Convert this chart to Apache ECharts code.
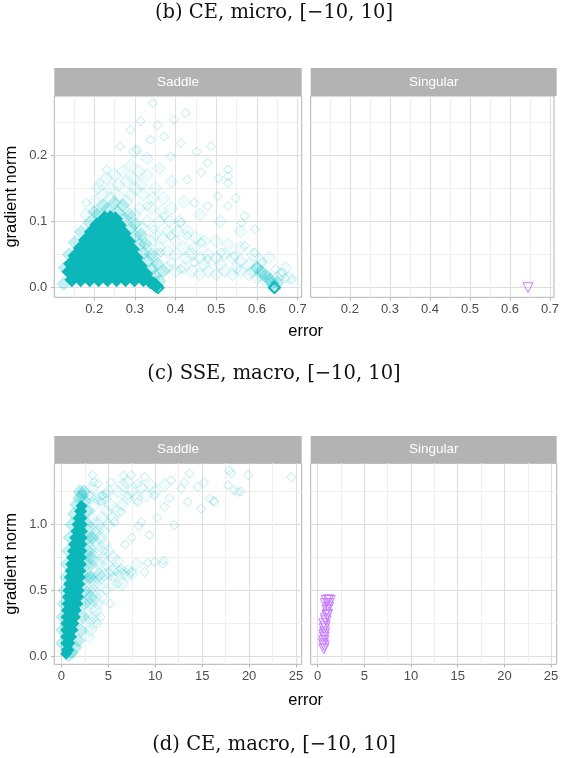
<!DOCTYPE html>
<html><head><meta charset="utf-8">
<script src="https://cdn.jsdelivr.net/npm/echarts@6/dist/echarts.min.js"></script>
<style>html,body{margin:0;padding:0;background:#fff}#c{width:562px;height:758px}</style>
</head><body><div id="c"></div>
<script>
// ---------- labels ----------
const panelNames = ['Saddle', 'Singular'];
const captions = ['(b) CE, micro, [\u221210, 10]', '(c) SSE, macro, [\u221210, 10]', '(d) CE, macro, [\u221210, 10]'];
const xTitle = 'error';
const yTitle = 'gradient norm';

// ---------- ticks ----------
const microXTicks = [0.2, 0.3, 0.4, 0.5, 0.6, 0.7];
const microXMinor = [0.15, 0.25, 0.35, 0.45, 0.55, 0.65];
const microYTicks = [0, 0.1, 0.2];
const microYMinor = [0.05, 0.15, 0.25];
const macroXTicks = [0, 5, 10, 15, 20, 25];
const macroXMinor = [2.5, 7.5, 12.5, 17.5, 22.5];
const macroYTicks = [0, 0.5, 1.0];
const macroYMinor = [0.25, 0.75, 1.25];

// ---------- SSE, macro (top) : Saddle ----------
const microSaddleCore = [
  [0.145,0.012],[0.167,0.012],[0.189,0.012],[0.211,0.012],[0.233,0.012],[0.255,0.012],[0.277,0.012],[0.299,0.012],[0.321,0.012],[0.338,0.009],
  [0.138,0.024],[0.156,0.024],[0.178,0.024],[0.200,0.024],[0.222,0.024],[0.244,0.024],[0.266,0.024],[0.288,0.024],[0.310,0.024],[0.326,0.021],
  [0.142,0.036],[0.167,0.036],[0.189,0.036],[0.211,0.036],[0.233,0.036],[0.255,0.036],[0.277,0.036],[0.299,0.036],[0.313,0.033],
  [0.153,0.048],[0.178,0.048],[0.200,0.048],[0.222,0.048],[0.244,0.048],[0.266,0.048],[0.288,0.048],[0.303,0.045],
  [0.166,0.060],[0.189,0.060],[0.211,0.060],[0.233,0.060],[0.255,0.060],[0.277,0.060],[0.294,0.058],
  [0.179,0.072],[0.200,0.072],[0.222,0.072],[0.244,0.072],[0.266,0.072],[0.284,0.070],
  [0.193,0.084],[0.211,0.084],[0.233,0.084],[0.255,0.084],[0.273,0.082],
  [0.207,0.095],[0.222,0.095],[0.244,0.095],[0.262,0.094],
  [0.226,0.105],[0.240,0.106],[0.252,0.104],
  [0.346,0.006],[0.352,0.003]
];
const microSaddleFringe = [
  [0.125,0.006],[0.128,0.030],[0.138,0.050],[0.152,0.068],[0.168,0.084],[0.188,0.098],[0.208,0.110],[0.232,0.118],[0.258,0.114],
  [0.275,0.104],[0.290,0.090],[0.302,0.078],[0.312,0.065],[0.322,0.052],[0.332,0.040],[0.342,0.028],[0.350,0.018],[0.360,0.010],
  [0.250,0.128],[0.270,0.124],[0.286,0.110],[0.300,0.096],[0.315,0.080],[0.326,0.066],[0.340,0.050],[0.355,0.036],[0.370,0.025],
  [0.222,0.124],[0.200,0.114],[0.643,0.002],[0.637,0.007],[0.630,0.012],[0.620,0.018],[0.610,0.024],[0.600,0.030],[0.650,0.008]
];
const microSaddleHaze = [
  [0.180,0.110],[0.200,0.130],[0.220,0.140],[0.240,0.150],[0.260,0.155],[0.280,0.160],[0.300,0.150],[0.320,0.140],[0.340,0.120],
  [0.360,0.100],[0.380,0.085],[0.400,0.070],[0.420,0.060],[0.440,0.050],[0.460,0.045],[0.480,0.050],[0.500,0.045],[0.520,0.050],
  [0.540,0.045],[0.560,0.040],[0.580,0.035],[0.600,0.030],[0.620,0.022],[0.635,0.012],[0.650,0.015],[0.660,0.020],
  [0.380,0.030],[0.400,0.025],[0.420,0.030],[0.440,0.025],[0.460,0.020],[0.480,0.025],[0.500,0.020],[0.520,0.025],[0.540,0.020],
  [0.560,0.025],[0.580,0.020],[0.600,0.015],[0.620,0.010],[0.360,0.060],[0.380,0.055],[0.400,0.050],[0.350,0.080],[0.370,0.075],
  [0.330,0.100],[0.310,0.120],[0.290,0.140],[0.270,0.175],[0.290,0.185],[0.310,0.175],[0.330,0.170],[0.350,0.150],[0.370,0.135],
  [0.390,0.120],[0.410,0.100],[0.430,0.085],[0.450,0.075],[0.470,0.070],[0.500,0.070],[0.530,0.065],[0.560,0.060],[0.590,0.050],
  [0.610,0.040],[0.250,0.170],[0.230,0.165],[0.210,0.150],[0.300,0.205],[0.330,0.195],[0.360,0.180],[0.390,0.160],[0.420,0.130],
  [0.460,0.110],[0.510,0.100],[0.560,0.085],[0.630,0.045],[0.670,0.030],[0.680,0.015],
  [0.320,0.090],[0.340,0.070],[0.355,0.050],[0.300,0.110],[0.280,0.130],[0.260,0.138],[0.240,0.135],[0.315,0.155],[0.295,0.165],
  [0.345,0.135],[0.365,0.115],[0.385,0.100],[0.405,0.085],[0.425,0.045],[0.445,0.060],[0.470,0.035],[0.510,0.035],[0.550,0.030],
  [0.590,0.025],[0.610,0.020]
];
const microSaddleSparse = [
  [0.344,0.278],[0.425,0.263],[0.396,0.253],[0.314,0.251],[0.372,0.228],[0.487,0.213],[0.529,0.178],[0.479,0.188],[0.463,0.174],
  [0.413,0.218],[0.529,0.158],[0.570,0.108],[0.562,0.098],[0.529,0.123],[0.504,0.138],[0.446,0.128],[0.479,0.123],[0.429,0.163],
  [0.388,0.198],[0.289,0.238],[0.305,0.208],[0.264,0.213],[0.231,0.178],[0.214,0.158],[0.181,0.128],[0.338,0.223],[0.529,0.168],
  [0.595,0.088],[0.670,0.014],[0.645,0.028],[0.612,0.038],[0.595,0.053],[0.570,0.063],[0.545,0.048],[0.512,0.053],[0.479,0.043],
  [0.446,0.038],[0.413,0.028],[0.388,0.038],[0.363,0.053],[0.463,0.068],[0.429,0.078],[0.388,0.078],[0.347,0.088],[0.372,0.108],
  [0.413,0.098],[0.330,0.123],[0.628,0.018],[0.662,0.023],[0.686,0.012],[0.356,0.245],[0.452,0.205],[0.505,0.165],[0.548,0.135]
];
const microSaddleStacks = [[0.357, 0.0], [0.643, 0.0]];
const microSingular = [[0.645, 0.0]];

// ---------- CE, macro (bottom) : Saddle ----------
const macroSaddleCore = [
  [0.5,0.02],[0.57,0.05],[0.75,0.05],[0.52,0.10],[0.85,0.10],[0.5,0.15],[0.8,0.15],[1.05,0.15],
  [0.5,0.20],[0.85,0.20],[1.2,0.20],[0.52,0.25],[0.9,0.25],[1.3,0.25],[0.55,0.30],[1.0,0.30],[1.45,0.30],
  [0.6,0.35],[1.05,0.35],[1.55,0.35],[0.65,0.40],[1.15,0.40],[1.7,0.40],[0.68,0.45],[1.2,0.45],[1.8,0.45],
  [0.75,0.50],[1.3,0.50],[1.85,0.50],[0.82,0.55],[1.35,0.55],[1.92,0.55],[0.9,0.60],[1.45,0.60],[1.98,0.60],
  [0.98,0.65],[1.5,0.65],[2.03,0.65],[1.05,0.70],[1.55,0.70],[2.08,0.70],[1.15,0.75],[1.62,0.75],[2.1,0.75],
  [1.25,0.80],[1.7,0.80],[2.13,0.80],[1.35,0.85],[1.75,0.85],[2.15,0.85],[1.47,0.90],[1.85,0.90],[2.17,0.90],
  [1.6,0.95],[1.9,0.95],[2.19,0.95],[1.72,1.00],[2.18,1.00],[1.85,1.05],[2.14,1.05],[2.0,1.10],[2.1,1.10],[2.15,1.14]
];
const macroSaddleFringe = [
  [0.10,0.10],[0.10,0.20],[0.15,0.30],[0.25,0.40],[0.35,0.50],[0.50,0.60],[0.60,0.70],[0.75,0.80],[0.90,0.90],[1.10,1.00],
  [1.35,1.08],[1.60,1.15],[1.90,1.20],[2.20,1.22],[2.50,1.18],[2.70,1.10],[2.80,1.00],[2.85,0.90],[2.80,0.80],[2.75,0.70],
  [2.65,0.60],[2.55,0.50],[2.45,0.40],[2.30,0.30],[2.10,0.20],[1.80,0.12],[1.50,0.07],[1.10,0.03],[0.80,0.01],[2.40,1.25],[2.00,1.25],
  [3.00,0.60],[3.10,0.45],[3.10,0.75],[3.20,0.90]
];
const macroSaddleHaze = [
  [3.0,0.30],[3.2,0.40],[3.4,0.50],[3.6,0.55],[3.8,0.60],[4.0,0.62],[4.3,0.60],[4.6,0.62],[5.0,0.63],[5.4,0.65],[5.8,0.66],
  [6.2,0.64],[6.6,0.63],[7.0,0.62],[7.5,0.63],[3.0,0.50],[3.1,0.60],[3.2,0.70],[3.3,0.80],[3.4,0.90],[3.5,1.00],[3.0,0.80],
  [3.0,0.95],[3.2,1.05],[3.6,0.75],[3.9,0.85],[4.2,0.90],[4.5,0.95],[4.0,1.00],[4.4,1.05],[4.8,1.10],[5.2,1.15],[3.5,1.15],
  [3.8,1.20],[4.2,1.20],[5.5,1.05],[6.0,1.10],[6.5,1.15],[7.0,1.20],[5.0,0.80],[5.5,0.75],[6.0,0.72],[3.1,0.20],[3.5,0.30],
  [3.9,0.40],[4.3,0.45],[4.0,0.70],[4.4,0.75],[4.8,0.70],[2.9,0.15],[3.3,0.25],[3.7,0.35],[2.9,1.10],[3.1,1.20],[3.3,1.28],
  [7.5,1.25],[8.0,1.20],[8.5,1.28],[9.0,1.22],[9.5,1.30],[10.0,1.25],[11.0,1.30],[6.0,1.25],[6.5,1.30],[5.0,1.25],[7.0,1.32],
  [8.0,0.70],[6.5,0.55],[5.5,0.55],
  [2.9,0.40],[3.0,0.70],[3.3,0.60],[3.6,0.45],[3.5,0.85],[3.8,0.95],[3.7,0.65],[4.1,0.55],[4.6,0.85],[5.0,1.00],[4.6,1.20]
];
const macroSaddleSparse = [
  [3.34,1.374],[3.87,1.31],[2.98,1.22],[4.76,1.235],[7.43,1.374],[8.14,1.31],[8.85,1.36],[9.92,1.22],[11.7,1.335],[12.76,1.272],
  [13.65,1.387],[14.54,1.285],[15.78,1.197],[16.3,1.172],[18.1,1.387],[18.8,1.247],[19.9,1.374],[17.75,1.298],[24.5,1.36],
  [12.05,0.996],[9.38,0.92],[9.92,0.717],[10.8,0.704],[8.85,0.64],[7.43,0.64],[6.36,0.666],[8.5,1.02],[6.36,1.096],[5.65,1.02],
  [7.07,1.22],[5.3,1.32],[4.23,1.17],[8.14,1.17],[10.98,1.135],[13.47,1.17],[14.89,1.12],[13.1,1.32],[3.45,1.32],[4.34,1.22],
  [6.64,1.37],[15.2,1.32],[16.2,1.18],[17.9,1.41],[18.4,1.26],[19.1,1.25],[10.9,0.727],[9.2,0.71],[7.1,0.66],[8.24,0.99],
  [5.5,0.6],[6.0,0.55],[4.8,0.5],[4.2,0.3],[3.8,0.25],[5.2,0.4],[4.5,0.8],[6.8,0.85],[7.5,0.9],[3.6,0.95],[10.2,1.05],[11.5,1.2]
];
const macroSingular = [
  [0.93,0.424],[1.35,0.424],[1.15,0.43],[0.82,0.40],[1.2,0.40],[1.17,0.374],[1.0,0.35],[1.05,0.32],[1.0,0.31],[0.82,0.286],
  [0.9,0.27],[0.65,0.248],[0.8,0.23],[0.7,0.21],[0.75,0.185],[0.68,0.165],[0.7,0.147],[0.65,0.12],[0.6,0.096],[0.7,0.08],[0.65,0.058]
];

// ---------- layout / style ----------
const TEAL = '#00BFC4', TEAL_CORE = '#0cb7b9', PURPLE = '#C77CFF';
const GREY70 = '#b3b3b3';
const panels = [
  {left: 54.3, top: 96, width: 247.4, height: 201.3},
  {left: 310.7, top: 96, width: 246, height: 201.3},
  {left: 54.3, top: 463.3, width: 247.4, height: 201},
  {left: 310.7, top: 463.3, width: 246, height: 201}
];
const ranges = [
  {x: [0.102, 0.71], y: [-0.0145, 0.289], xt: microXTicks, xm: microXMinor, yt: microYTicks, ym: microYMinor, xf: v => v.toFixed(1), yf: v => v.toFixed(1)},
  {x: [-0.75, 25.6], y: [-0.059, 1.464], xt: macroXTicks, xm: macroXMinor, yt: macroYTicks, ym: macroYMinor, xf: v => String(Math.round(v)), yf: v => v.toFixed(1)}
];
const labelFont = {color: '#4d4d4d', fontSize: 13, fontFamily: 'Liberation Sans, Arial, sans-serif'};

const grids = panels.map(p => Object.assign({show: true, borderColor: GREY70, borderWidth: 1, backgroundColor: '#fff', containLabel: false}, p));
const xAxes = [], yAxes = [];
panels.forEach((p, g) => {
  const r = ranges[g < 2 ? 0 : 1];
  xAxes.push({gridIndex: g, type: 'value', min: r.x[0], max: r.x[1], position: 'bottom',
    axisLine: {show: false, onZero: false},
    axisTick: {show: true, length: 3, lineStyle: {color: GREY70}, customValues: r.xt},
    axisLabel: Object.assign({show: true, margin: 6, customValues: r.xt, formatter: r.xf}, labelFont),
    splitLine: {show: true, lineStyle: {color: '#dedede', width: 1}}});
  xAxes.push({gridIndex: g, type: 'value', min: r.x[0], max: r.x[1], position: 'top',
    axisLine: {show: false, onZero: false},
    axisTick: {show: false, customValues: r.xm},
    axisLabel: {show: false, customValues: r.xm},
    splitLine: {show: true, lineStyle: {color: '#efefef', width: 1}}});
  yAxes.push({gridIndex: g, type: 'value', min: r.y[0], max: r.y[1], position: 'left',
    axisLine: {show: false, onZero: false},
    axisTick: {show: g % 2 === 0, length: 3, lineStyle: {color: GREY70}, customValues: r.yt},
    axisLabel: Object.assign({show: g % 2 === 0, margin: 7, customValues: r.yt, formatter: r.yf}, labelFont),
    splitLine: {show: true, lineStyle: {color: '#dedede', width: 1}}});
  yAxes.push({gridIndex: g, type: 'value', min: r.y[0], max: r.y[1], position: 'right',
    axisLine: {show: false, onZero: false},
    axisTick: {show: false, customValues: r.ym},
    axisLabel: {show: false, customValues: r.ym},
    splitLine: {show: true, lineStyle: {color: '#efefef', width: 1}}});
});

function sc(data, g, symbol, size, style, z, rotate) {
  return {type: 'scatter', xAxisIndex: 2 * g, yAxisIndex: 2 * g, data: data, symbol: symbol,
    symbolSize: size, symbolRotate: rotate || 0, itemStyle: style, z: z, silent: true,
    emphasis: {disabled: true}, large: false};
}
const hollow = (c, o, w) => ({color: 'rgba(0,0,0,0)', borderColor: c, borderWidth: w || 1, opacity: o});
const filled = (c, o) => ({color: c, opacity: o, borderWidth: 0});
const washed = (fill, line) => ({color: fill, borderColor: line, borderWidth: 1});

const series = [
  sc(microSaddleHaze, 0, 'diamond', 13, washed('rgba(0,191,196,0.07)', 'rgba(0,191,196,0.22)'), 2),
  sc(microSaddleSparse, 0, 'diamond', 9, hollow(TEAL, 0.3), 3),
  sc(microSaddleFringe, 0, 'diamond', 13, washed('rgba(0,191,196,0.28)', 'rgba(0,191,196,0.35)'), 4),
  sc(microSaddleCore, 0, 'diamond', 15, filled(TEAL_CORE, 1), 5),
  sc(microSaddleStacks, 0, 'diamond', 11, hollow(TEAL_CORE, 1, 2), 6),
  sc(microSingular, 1, 'triangle', 10, hollow(PURPLE, 1), 6, 180),
  sc(macroSaddleHaze, 2, 'diamond', 13, washed('rgba(0,191,196,0.07)', 'rgba(0,191,196,0.22)'), 2),
  sc(macroSaddleSparse, 2, 'diamond', 9, hollow(TEAL, 0.3), 3),
  sc(macroSaddleFringe, 2, 'diamond', 13, washed('rgba(0,191,196,0.28)', 'rgba(0,191,196,0.35)'), 4),
  sc(macroSaddleCore, 2, 'diamond', 12, filled(TEAL_CORE, 1), 5),
  sc(macroSingular, 3, 'triangle', 10, hollow(PURPLE, 1), 6, 180)
];

// ---------- graphic: strips, captions, axis titles ----------
const graphic = [];
panels.forEach((p, g) => {
  const top = g < 2 ? 68 : 436;
  const h = p.top - top;
  graphic.push({type: 'rect', shape: {x: p.left, y: top, width: p.width, height: h}, style: {fill: GREY70}, silent: true});
  graphic.push({type: 'text', x: p.left + p.width / 2, y: top + h / 2, silent: true,
    style: {text: panelNames[g % 2], fill: '#fff', font: '13.5px "Liberation Sans", Arial, sans-serif', textAlign: 'center', textVerticalAlign: 'middle'}});
});
const capY = [13, 374, 745];
captions.forEach((t, i) => graphic.push({type: 'text', x: 274, y: capY[i], silent: true,
  style: {text: t, fill: '#111', font: '19.5px "DejaVu Serif", serif', textAlign: 'center', textVerticalAlign: 'middle'}}));
[331, 700].forEach(y => graphic.push({type: 'text', x: 305.7, y: y, silent: true,
  style: {text: xTitle, fill: '#000', font: '16.5px "Liberation Sans", Arial, sans-serif', textAlign: 'center', textVerticalAlign: 'middle'}}));
[196.7, 563.8].forEach(y => graphic.push({type: 'text', x: 11.7, y: y, rotation: Math.PI / 2, silent: true,
  style: {text: yTitle, fill: '#000', font: '16.5px "Liberation Sans", Arial, sans-serif', textAlign: 'center', textVerticalAlign: 'middle'}}));

const chart = echarts.init(document.getElementById('c'), null, {renderer: 'canvas'});
chart.setOption({
  animation: false,
  backgroundColor: '#fff',
  grid: grids,
  xAxis: xAxes,
  yAxis: yAxes,
  series: series,
  graphic: graphic
});
</script></body></html>
